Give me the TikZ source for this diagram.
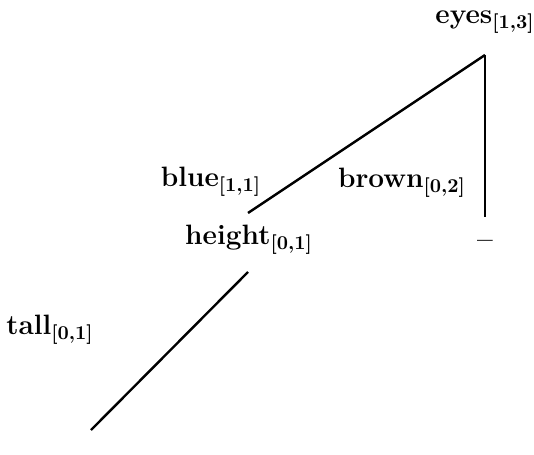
\documentclass[tikz,border=0pt]{standalone}
\begin{document}
\begin{tikzpicture}[x=0.5pt,y=-0.5pt,
  lbl/.style={inner sep=0pt,font=\fontsize{14}{16}\selectfont\bfseries},
  branch/.style={line width=1.2pt}]
\useasboundingbox (0,0) rectangle (534,454);
\node[lbl] (eyes) at (485,22) {eyes\textsubscript{[1,3]}};
\node[lbl] (blue) at (211,182) {blue\textsubscript{[1,1]}};
\node[lbl] (brown) at (402,183) {brown\textsubscript{[0,2]}};
\node[lbl] (height) at (249,240) {height\textsubscript{[0,1]}};
\node[lbl] (dash) at (485,244) {--};
\node[lbl] (tall) at (50,330) {tall\textsubscript{[0,1]}};
\coordinate (eyesroot) at (485,55);
\coordinate (heighttop) at (248,213);
\coordinate (dashtop) at (485,217);
\coordinate (heightroot) at (248,272);
\coordinate (talltop) at (91,430);
\draw[branch] (eyesroot) -- (heighttop);
\draw[branch] (eyesroot) -- (dashtop);
\draw[branch] (heightroot) -- (talltop);
\end{tikzpicture}
\end{document}
